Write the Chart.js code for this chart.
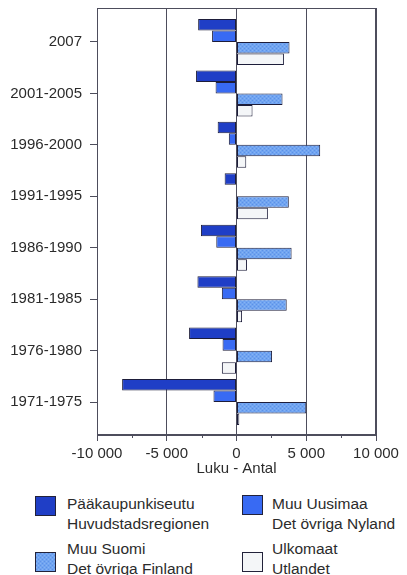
<!DOCTYPE html>
<html lang="fi">
<head>
    <meta charset="UTF-8">
    <title>Muuttoliike - Flyttningsrörelse</title>
    <script src="https://cdn.jsdelivr.net/npm/chart.js"></script>
    <style>
        body, html {
            margin: 0;
            padding: 0;
            background: #fff;
            font-family: "Liberation Sans", Arial, sans-serif;
        }

        .wrap {
            position: relative;
            width: 407px;
            height: 575px;
        }

        #chart {
            position: absolute;
            left: 0;
            top: 0;
        }

        /* Legend below the chart */
        .legend-item {
            position: absolute;
            font-size: 15.5px;
            line-height: 19.5px;
            color: #2b2b2b;
            white-space: nowrap;
        }

        .swatch {
            position: absolute;
            left: 0;
            width: 19px;
            height: 18px;
            border: 1px solid #22223a;
        }
    </style>
</head>
<body>

<div class="wrap">
    <canvas id="chart" width="407" height="478"></canvas>
    <div id="legend"></div>
</div>

<script>
    // Data
    const periods = ['2007', '2001-2005', '1996-2000', '1991-1995', '1986-1990', '1981-1985', '1976-1980', '1971-1975'];
    const paakaupunkiseutu = [-2750, -2900, -1350, -850, -2550, -2800, -3400, -8200];
    const muuUusimaa = [-1750, -1500, -550, 0, -1450, -1050, -1000, -1650];
    const muuSuomi = [3800, 3300, 6000, 3750, 3950, 3600, 2550, 5000];
    const ulkomaat = [3400, 1150, 700, 2250, 750, 400, -1050, 200];

    const xTickValues = [-10000, -5000, 0, 5000, 10000];
    const xTickLabels = ['-10 000', '-5 000', '0', '5 000', '10 000'];
    const xMinorTicks = [-7500, -2500, 2500, 7500];
    const axisTitle = 'Luku - Antal';

    const seriesNames = [
        ['Pääkaupunkiseutu', 'Huvudstadsregionen'],
        ['Muu Uusimaa', 'Det övriga Nyland'],
        ['Muu Suomi', 'Det övriga Finland'],
        ['Ulkomaat', 'Utlandet']
    ];

    // dotted fill for "Muu Suomi"
    function makeDots() {
        const c = document.createElement('canvas');
        c.width = 4;
        c.height = 4;
        const g = c.getContext('2d');
        g.fillStyle = '#70a4f1';
        g.fillRect(0, 0, 4, 4);
        g.fillStyle = '#5d91e6';
        g.fillRect(0, 0, 1, 1);
        g.fillRect(2, 2, 1, 1);
        g.fillStyle = '#86b3f3';
        g.fillRect(2, 0, 1, 1);
        g.fillRect(0, 2, 1, 1);
        return c;
    }
    const dotCanvas = makeDots();
    const dotPattern = document.getElementById('chart').getContext('2d').createPattern(dotCanvas, 'repeat');

    const fills = ['#1f3ec6', '#386af3', dotPattern, '#f4f6f8'];
    const swatchCss = ['#1f3ec6', '#386af3', 'url(' + dotCanvas.toDataURL() + ')', '#f4f6f8'];
    const seriesData = [paakaupunkiseutu, muuUusimaa, muuSuomi, ulkomaat];

    const lineColor = '#4d4d5c';
    const textColor = '#2b2b2b';

    // frame round the plot + small minor ticks on the x axis
    const framePlugin = {
        id: 'frame',
        afterDatasetsDraw(chart) {
            const { ctx, chartArea: a, scales } = chart;
            ctx.save();
            ctx.strokeStyle = lineColor;
            ctx.lineWidth = 1;
            ctx.strokeRect(Math.round(a.left) + 0.5, Math.round(a.top) + 0.5,
                Math.round(a.right - a.left) - 1, Math.round(a.bottom - a.top) - 1);
            ctx.beginPath();
            xMinorTicks.forEach(v => {
                const x = Math.round(scales.x.getPixelForValue(v)) + 0.5;
                ctx.moveTo(x, a.bottom);
                ctx.lineTo(x, a.bottom + 3);
            });
            ctx.stroke();
            ctx.restore();
        }
    };

    new Chart(document.getElementById('chart'), {
        type: 'bar',
        data: {
            datasets: seriesData.map((arr, k) => ({
                label: seriesNames[k].join(' / '),
                data: arr.map((v, i) => ({ x: v, y: i })),
                backgroundColor: fills[k],
                borderColor: '#1d1d3a',
                borderWidth: 1,
                borderSkipped: false,
                categoryPercentage: 0.895,
                barPercentage: 1
            }))
        },
        options: {
            indexAxis: 'y',
            responsive: false,
            animation: false,
            layout: { padding: { top: 8, right: 31, left: 0, bottom: 0 } },
            plugins: {
                legend: { display: false },
                tooltip: { enabled: false }
            },
            scales: {
                x: {
                    type: 'linear',
                    min: -10000,
                    max: 10000,
                    afterBuildTicks: axis => {
                        axis.ticks = xTickValues.map(v => ({ value: v }));
                    },
                    afterFit: s => { s.height = 43; },
                    ticks: {
                        callback: (v, i) => xTickLabels[i],
                        color: textColor,
                        font: { family: 'Liberation Sans', size: 15 },
                        padding: 4,
                        maxRotation: 0
                    },
                    grid: {
                        color: lineColor,
                        tickLength: 6
                    },
                    border: { color: lineColor },
                    title: {
                        display: true,
                        text: axisTitle,
                        color: textColor,
                        font: { family: 'Liberation Sans', size: 15 },
                        padding: 0
                    }
                },
                y: {
                    type: 'linear',
                    reverse: true,
                    offset: false,
                    min: -0.66,
                    max: 7.64,
                    afterBuildTicks: axis => {
                        axis.ticks = periods.map((p, i) => ({ value: i }));
                    },
                    afterFit: s => {
                        s.width = 97;
                        s.paddingTop = 0;
                        s.paddingBottom = 0;
                    },
                    ticks: {
                        callback: v => periods[v],
                        color: textColor,
                        font: { family: 'Liberation Sans', size: 15 },
                        padding: 8
                    },
                    grid: {
                        offset: false,
                        drawOnChartArea: false,
                        color: lineColor,
                        tickLength: 7
                    },
                    border: { color: lineColor }
                }
            }
        },
        plugins: [framePlugin]
    });

    // legend, two columns
    const legendPos = [
        { left: 35, top: 494, sw: 2 },
        { left: 242, top: 494, sw: 1 },
        { left: 35, top: 539, sw: 13 },
        { left: 242, top: 539, sw: 13 }
    ];
    const legend = document.getElementById('legend');
    seriesNames.forEach((lines, k) => {
        const p = legendPos[k];
        const item = document.createElement('div');
        item.className = 'legend-item';
        item.style.left = p.left + 'px';
        item.style.top = p.top + 'px';
        const sw = document.createElement('div');
        sw.className = 'swatch';
        sw.style.top = p.sw + 'px';
        sw.style.background = swatchCss[k];
        item.appendChild(sw);
        const txt = document.createElement('div');
        txt.style.marginLeft = (k % 2 === 0 ? 32 : 30) + 'px';
        txt.innerHTML = lines.join('<br>');
        item.appendChild(txt);
        legend.appendChild(item);
    });
</script>

</body>
</html>
